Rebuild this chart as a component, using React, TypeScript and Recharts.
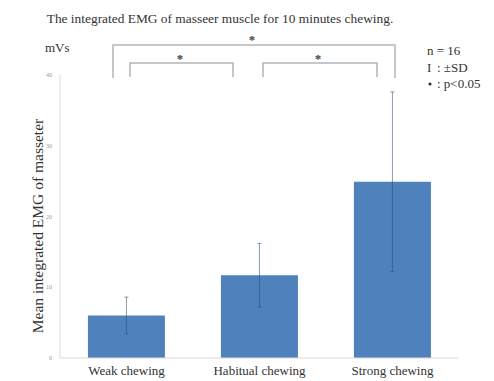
import { BarChart, Bar, XAxis, YAxis, ErrorBar } from "recharts";

const categories = ["Weak chewing", "Habitual chewing", "Strong chewing"];
const means = [6.0, 11.7, 24.9];
const sds = [2.6, 4.5, 12.7];
const yTicks = [0, 10, 20, 30, 40];

const data = categories.map((name, i) => ({ name, mean: means[i], sd: sds[i] }));

const FONT = "'Liberation Serif', 'Times New Roman', serif";

export default function App() {
  return (
    <div style={{ position: "relative", width: 494, height: 381, background: "#fff", fontFamily: FONT }}>
      <style>{`body { margin: 0; }`}</style>
      <BarChart
        width={494}
        height={381}
        data={data}
        margin={{ top: 75, right: 35, bottom: 0, left: 0 }}
        barCategoryGap="21%"
      >
        <XAxis
          dataKey="name"
          height={23}
          tickLine={false}
          axisLine={{ stroke: "#d9d9d9" }}
          tick={{ fontSize: 13, fill: "#333", fontFamily: FONT }}
        />
        <YAxis
          width={60}
          domain={[0, 40]}
          ticks={yTicks}
          tickLine={false}
          axisLine={{ stroke: "#d9d9d9" }}
          tick={{ fontSize: 6, fill: "#999", fontFamily: FONT }}
        />
        <Bar dataKey="mean" fill="#4f81bd" isAnimationActive={false}>
          <ErrorBar dataKey="sd" width={2} stroke="#2a4a6e" strokeOpacity={0.55} strokeWidth={1} />
        </Bar>
      </BarChart>
      <svg width={494} height={381} style={{ position: "absolute", left: 0, top: 0, pointerEvents: "none" }}>
        <text x={220} y={23} textAnchor="middle" fontSize={13.4} fill="#333" fontFamily={FONT}>
          The integrated EMG of masseer muscle for 10 minutes chewing.
        </text>
        <text
          x={43}
          y={226}
          transform="rotate(-90 43 226)"
          textAnchor="middle"
          fontSize={15.5}
          fill="#333"
          fontFamily={FONT}
        >
          Mean integrated EMG of masseter
        </text>
        <text x={45} y={52} fontSize={13} fill="#333" fontFamily={FONT}>mVs</text>
        <g stroke="#b0b7c0" strokeWidth={1.5} fill="none">
          <polyline points="113,78 113,45 395,45 395,78" />
          <polyline points="130,77 130,63 233,63 233,77" />
          <polyline points="263,77 263,63 377,63 377,77" />
        </g>
        <g fontSize={13} fill="#444" fontFamily={FONT} fontWeight="bold" textAnchor="middle">
          <text x={252} y={44}>*</text>
          <text x={180} y={63}>*</text>
          <text x={318} y={63}>*</text>
        </g>
        <g fontSize={13} fill="#333" fontFamily={FONT}>
          <text x={427} y={55}>n = 16</text>
          <text x={427} y={72}>I</text>
          <text x={437} y={72}>: ±SD</text>
          <circle cx={430} cy={84} r={1.6} fill="#333" />
          <text x={437} y={88}>: p&lt;0.05</text>
        </g>
      </svg>
    </div>
  );
}
